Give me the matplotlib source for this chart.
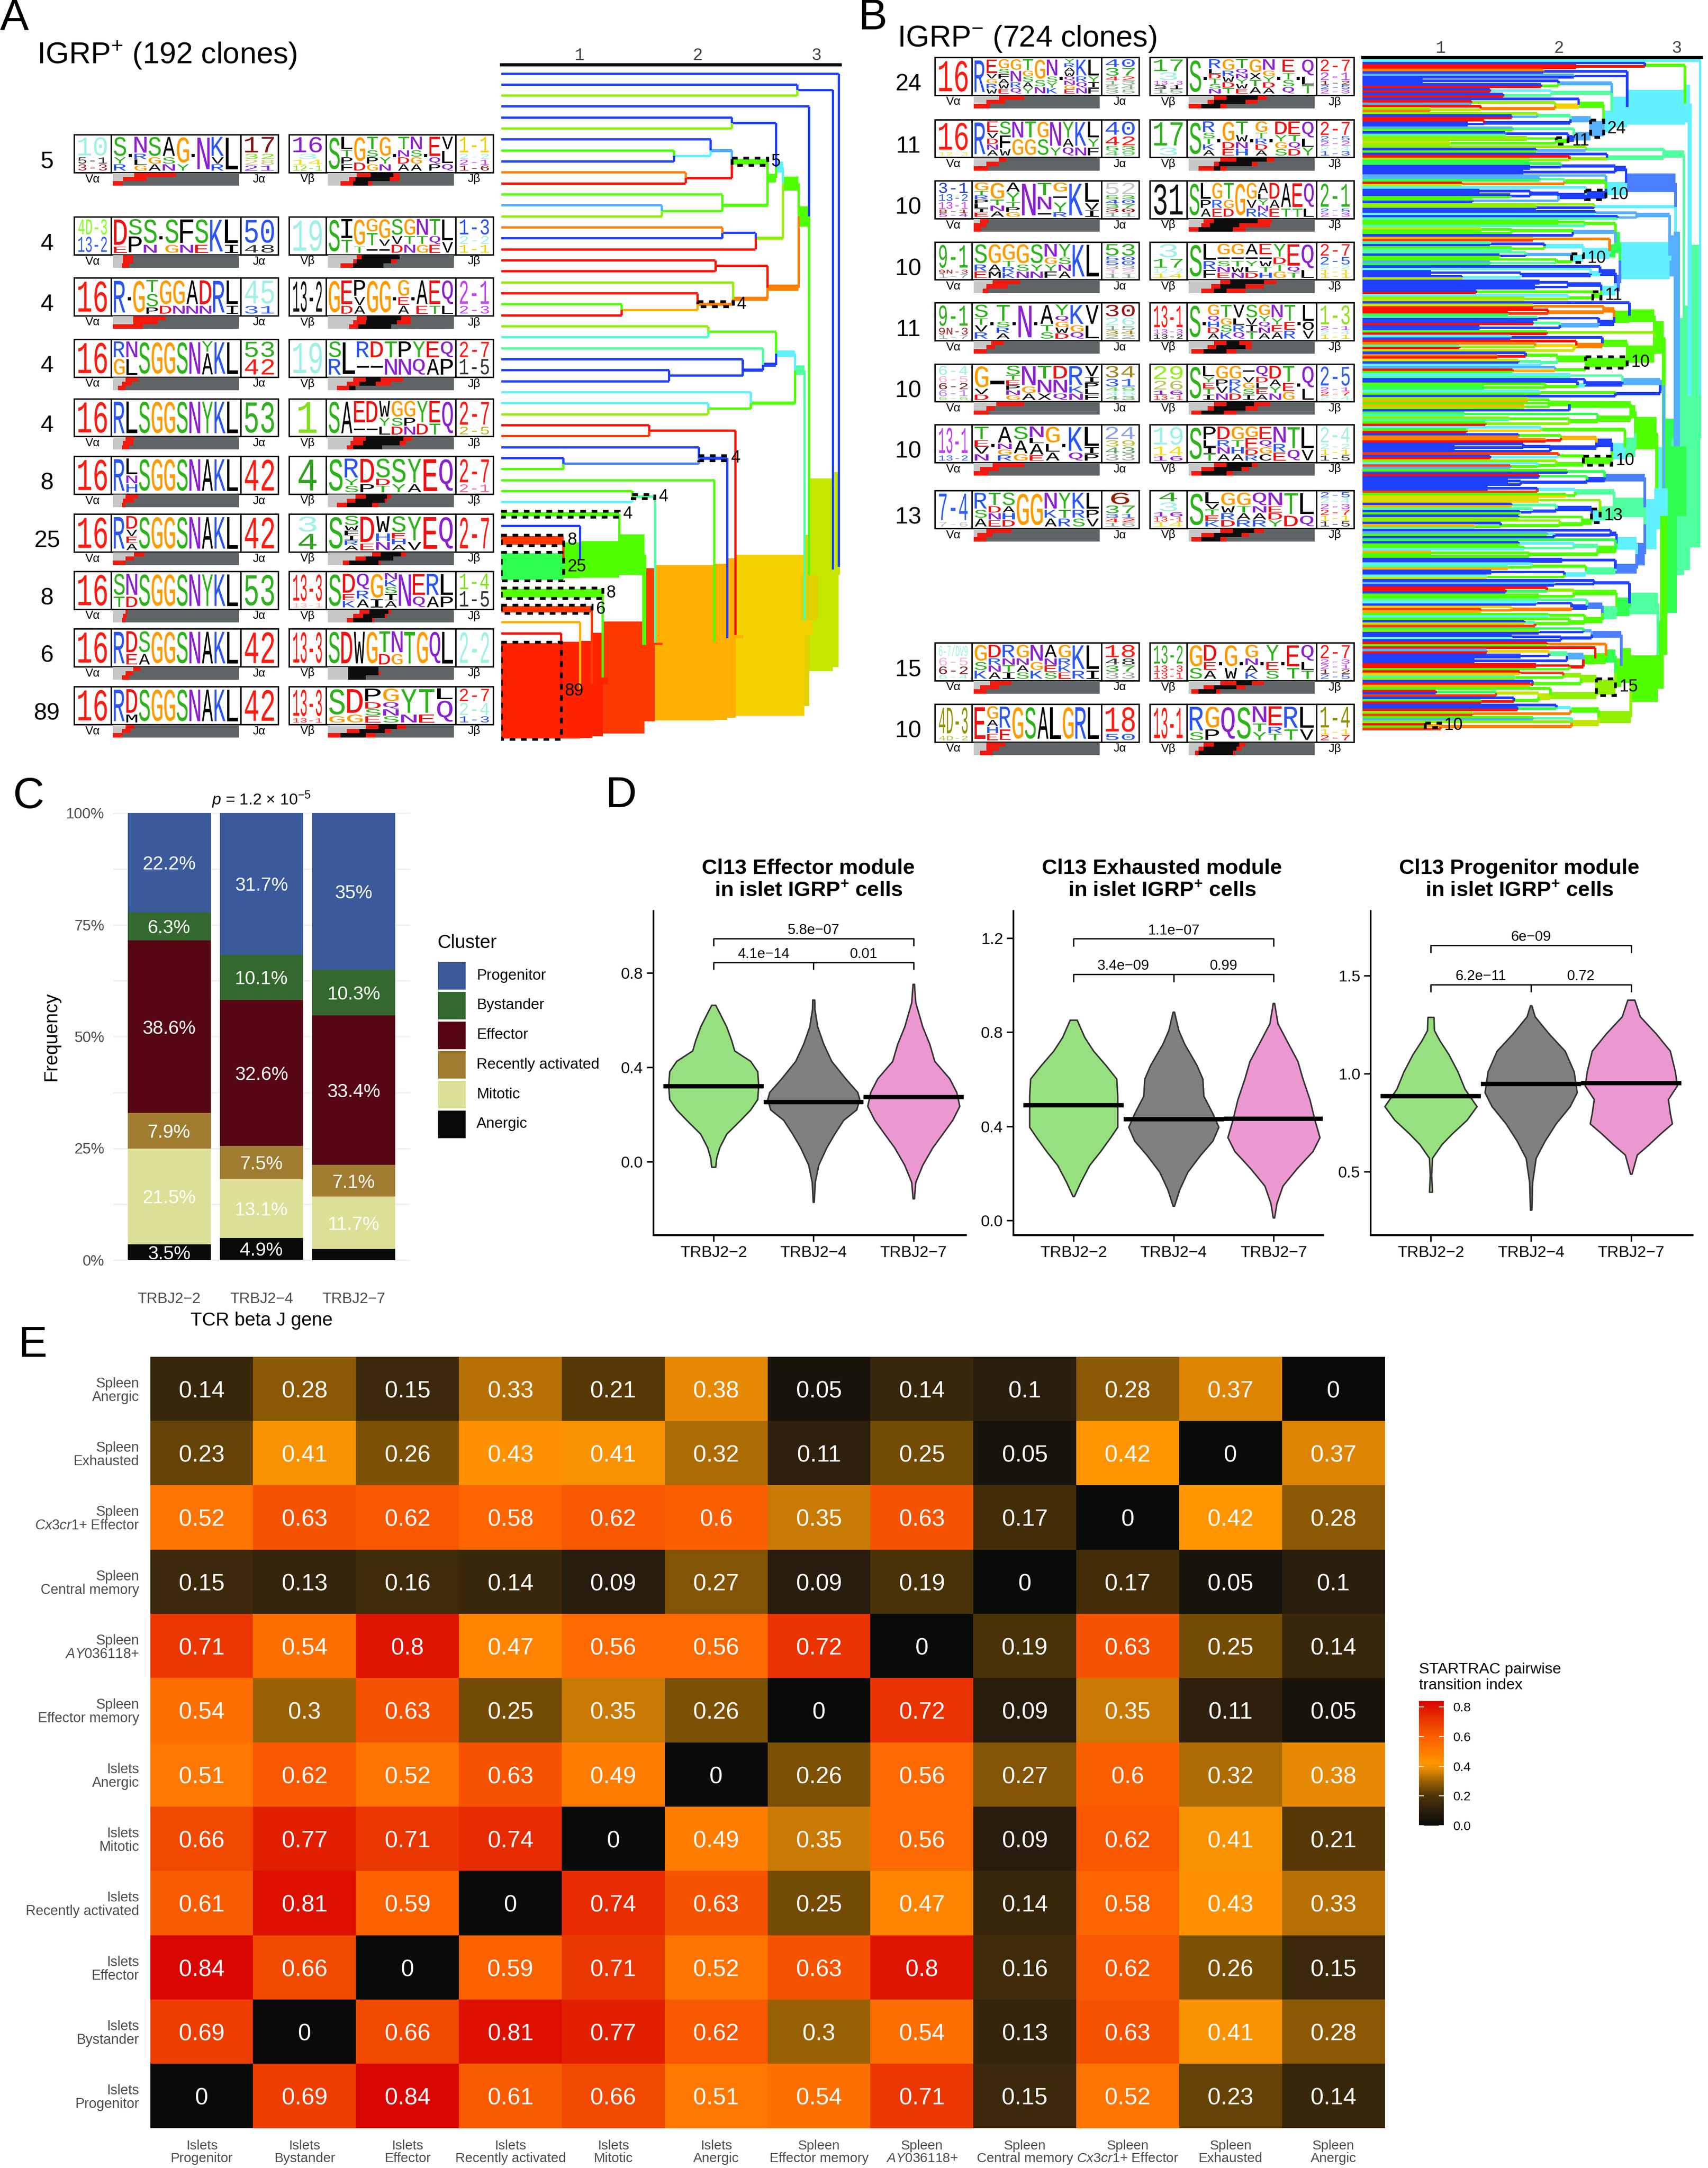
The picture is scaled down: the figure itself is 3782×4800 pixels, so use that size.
import numpy as np
import matplotlib
matplotlib.use('Agg')
import matplotlib.pyplot as plt
from matplotlib.colors import LinearSegmentedColormap
from matplotlib.patches import Rectangle
from matplotlib.patheffects import AbstractPathEffect
from matplotlib.path import Path
from matplotlib.transforms import Affine2D

plt.rcParams['font.family'] = ['Liberation Sans', 'DejaVu Sans']
plt.rcParams['mathtext.fontset'] = 'custom'
plt.rcParams['mathtext.rm'] = 'Liberation Sans'
plt.rcParams['mathtext.it'] = 'Liberation Sans:italic'
plt.rcParams['mathtext.bf'] = 'Liberation Sans:bold'

W, H = 3782, 4800

# ---------- panel C values ----------
c_genes = ['TRBJ2\u22122', 'TRBJ2\u22124', 'TRBJ2\u22127']
c_clusters = ['Progenitor', 'Bystander', 'Effector', 'Recently activated', 'Mitotic', 'Anergic']
c_colors = ['#3A5A9C', '#33692E', '#570614', '#A07C30', '#DCE096', '#070A08']
c_j22 = [22.2, 6.3, 38.6, 7.9, 21.5, 3.5]
c_j24 = [31.7, 10.1, 32.6, 7.5, 13.1, 4.9]
c_j27 = [35, 10.3, 33.4, 7.1, 11.7, 2.5]

# ---------- panel D values: (value, half width) outline per violin ----------
d_titles = ['Cl13 Effector module', 'Cl13 Exhausted module', 'Cl13 Progenitor module']
d_colors = ['#97E07F', '#808080', '#EC98D0']
eff_y = [[.664, .631, .572, .514, .470, .426, .382, .323, .264, .220, .176, .117, .059, .015, -.023],
         [.686, .646, .572, .499, .426, .352, .294, .264, .220, .176, .117, .059, -.015, -.088, -.172],
         [.753, .675, .572, .499, .426, .352, .294, .235, .176, .117, .059, -.015, -.088, -.157]]
eff_w = [[.02, .06, .13, .18, .21, .37, .44, .45, .44, .37, .27, .13, .06, .03, .02],
         [.01, .012, .04, .10, .18, .32, .44, .46, .43, .30, .21, .13, .05, .015, .005],
         [.007, .02, .09, .16, .21, .36, .43, .46, .39, .29, .19, .09, .02, .007]]
eff_med = [.32, .252, .273]
exh_y = [[.852, .779, .720, .661, .602, .529, .455, .397, .353, .294, .235, .162, .103],
         [.886, .808, .749, .661, .602, .529, .455, .397, .338, .279, .206, .132, .062],
         [.923, .837, .764, .676, .602, .514, .426, .353, .294, .220, .147, .073, .012]]
exh_w = [[.035, .11, .20, .32, .43, .44, .44, .44, .37, .27, .16, .07, .007],
         [.007, .05, .11, .23, .29, .30, .39, .45, .39, .27, .14, .06, .007],
         [.007, .04, .13, .24, .29, .36, .41, .46, .39, .23, .09, .03, .007]]
exh_med = [.489, .430, .433]
pro_y = [[1.288, 1.22, 1.168, 1.097, 1.009, .921, .832, .762, .691, .638, .568, .480, .395],
         [1.347, 1.291, 1.203, 1.115, 1.009, .903, .832, .744, .656, .568, .444, .303],
         [1.376, 1.291, 1.203, 1.115, 1.009, .938, .868, .797, .744, .691, .638, .585, .487]]
pro_w = [[.03, .035, .09, .18, .27, .34, .46, .36, .21, .11, .015, .007, .015],
         [.007, .04, .18, .34, .43, .46, .39, .25, .14, .05, .015, .007],
         [.035, .09, .25, .39, .44, .46, .37, .39, .41, .29, .18, .06, .007]]
pro_med = [.885, .947, .952]
d_pvals = [['5.8e\u221207', '4.1e\u221214', '0.01'],
           ['1.1e\u221207', '3.4e\u221209', '0.99'],
           ['6e\u221209', '6.2e\u221211', '0.72']]

# ---------- panel E values ----------
e_rows = ['Spleen\nAnergic', 'Spleen\nExhausted', 'Spleen\n$\\it{Cx3cr1}$+ Effector', 'Spleen\nCentral memory',
          'Spleen\n$\\it{AY036118}$+', 'Spleen\nEffector memory', 'Islets\nAnergic', 'Islets\nMitotic',
          'Islets\nRecently activated', 'Islets\nEffector', 'Islets\nBystander', 'Islets\nProgenitor']
e_cols = e_rows[::-1]
e_vals = [[.14, .28, .15, .33, .21, .38, .05, .14, .1, .28, .37, 0],
          [.23, .41, .26, .43, .41, .32, .11, .25, .05, .42, 0, .37],
          [.52, .63, .62, .58, .62, .6, .35, .63, .17, 0, .42, .28],
          [.15, .13, .16, .14, .09, .27, .09, .19, 0, .17, .05, .1],
          [.71, .54, .8, .47, .56, .56, .72, 0, .19, .63, .25, .14],
          [.54, .3, .63, .25, .35, .26, 0, .72, .09, .35, .11, .05],
          [.51, .62, .52, .63, .49, 0, .26, .56, .27, .6, .32, .38],
          [.66, .77, .71, .74, 0, .49, .35, .56, .09, .62, .41, .21],
          [.61, .81, .59, 0, .74, .63, .25, .47, .14, .58, .43, .33],
          [.84, .66, 0, .59, .71, .52, .63, .8, .16, .62, .26, .15],
          [.69, 0, .66, .81, .77, .62, .3, .54, .13, .63, .41, .28],
          [0, .69, .84, .61, .66, .51, .54, .71, .15, .52, .23, .14]]

# ---------- panels A and B: logos. letters repeat to give their share of the column ----------
a_counts = [5, 4, 4, 4, 4, 8, 25, 8, 6, 89]
a_va = ['10*3,5-1,3-3', '4D-3,13-2', '16', '16', '16', '16', '16', '16', '16', '16']
a_ja = ['17*3,32,28,21', '50*3,48', '45*3,31', '53,42', '53', '42', '42', '53', '42', '42']
a_vb = ['16*3,3,14,12-1', '19', '13-2', '19', '1', '4', '3,4', '13-3*6,13-1', '13-3', '13-3*6,13-1']
a_jb = ['1-1*3,2-2,2-1,1-6', '1-3*2,2-2,1-1', '2-1*3,2-3', '2-7,1-5', '2-7*3,2-5', '2-7*3,2-1', '2-7',
        '1-4,1-5', '2-2', '2-7*2,2-4*2,1-3']
a_cdra = ['SSSYR . NNNRLG SSSGA AAASN GGGGY . N KKKVR L',
          'DDDDE SSPP SSSN . SSSG FFFN SSSE K LLLI',
          'R . G TTSSP GGGD GGGN AAAN DDDN R LLLI',
          'RG NL S G G S N YAA K L',
          'R L S G G S N Y K L',
          'R LLNH S G G S N A K L',
          'R DDVEA S G G S N A K L',
          'SST NND S G G S N Y K L',
          'R DDE SSA G G S N A K L',
          'R DDDM S G G S N A K L']
a_cdrb = ['S LLTPF GGGD TTSPG GGGYN . TTNDA NNSGA . EEEQP VVLLQ',
          'S IIITT GGGGT GGTT- GGGV- SSVD GGTN NNTG TTQE LLV',
          'GG EEED PPVA G G . GGEA . AAAE EEET QQQL',
          'SR L R- D- TN PN YQ EA QP',
          'S A EE- DD- WWYL GGSD GGPN YYD EET Q',
          'S RRRYS DDDP SSSDT SSSY YYYA E Q',
          'S SSWFIRA DDDDE WWHN SSEHSA YYYV E Q',
          'S DDDEK QQRA GGGI NKSIA N EEQ RRA LLP',
          'S D W G TTD NNG T G Q L',
          'SSSSG DDDG PPDSE GGQNS YYYN TTTE LQQ']
b_counts = [24, 11, 10, 10, 11, 10, 10, 13, 15, 10]
b_va = ['16', '16*8,12-3', '3-1*3,13-2*2,13-1*2,8-1,5-4', '9-1*6,9N-3,1-7', '9-1*6,9N-3*2,1-7',
        '6-4*3,6-5*2,6-2*2,6-1*2,6-6', '13-1*5,13-2', '7-4*6,7-6', '6-7/DV9*3,6-5*2,6-2*2,6-4',
        '4D-3*6,4D-2']
b_ja = ['40*2,37*2,42,13,54,35', '40*3,42*2,53,49', '52*3,53,40,37,30,11', '53*3,50,50,33,12,11',
        '30*3,26*2,15,34,22', '34*3,31*2,49,45,43', '24*2,39,43,33', '6*3,37*2,31,42,16', '18*2,48,37,33',
        '18*4,50']
b_vb = ['17*3,3*2,13-3,31,15', '17*3,3', '31', '3*3,17*2,12-2,14', '13-1*5,13-3,13-2', '29*3,26*2,16,13-1',
        '19*4,14*2,16', '4*2,3*2,16,13-1,14', '13-2*3,13-3,13-1', '13-1']
b_jb = ['2-7*3,2-1*2,1-2,2-5,2-3', '2-7*3,2-5,2-2,2-4,1-3', '2-1*6,2-5,2-3', '2-7*3,2-5*2,2-2,1-1,1-1',
        '1-3*5,2-1,2-4,1-1', '2-5*5,2-1,2-7,2-4', '2-4*3,2-2,1-1,1-5', '2-5,2-4,2-3,2-7,1-1,1-5',
        '2-7*3,2-3,2-1,1-2,2-5', '1-4*4,1-1,2-7']
b_cdra = ['R EEEVGRW GGSFAWE GGNNRQ TTGSAY GGGSN NNNSYK . YRAWQNGE KKKRQN LLLYIF',
          'R EEVDNA SSFFW NNGG TTGG GGSS NNNY YYAQ KKKN LLYF',
          'GGTRPLIE GGGTNA AAYYTPG N TTNN- GG-YRY- K LLLVI',
          'SSSRE GGGAM GGGTRK GGGSN SSSYN NNGYF YYSNA K L',
          'SSTVR . TTTSRA . N . AAATS YYQGWD KKKGQ VVVLL',
          'GGGGVD - SSTEPNG NNNGA TTNNX DDNNQ RRRKN VVIPLF',
          'TTEVN . AAANGR SSAAG NNLAAE GGLA . KKKQ LLLIP',
          'RRSA TTDNE SSAHD GGG GG NNKA YYTR KKRS LLPV',
          'GGSK DDRNA RRNTI GGNAS NNGK AANES GGRKE KKKR LLLI',
          'E GGAHE RRE G S A L G R L']
b_cdrb = ['S . RRLDTSN GGRWDT TTQNYWE GGXTA NNGYDA . EETSQ . QQLT',
          'S RRSTKA . GGGDE TTWNH . GGTRDA . DDYGS EETQD QQLY',
          'S LLPA GGRE TTGD GG GGVR AALYNK DDAE AAAT EEET QQQL',
          'S LLRF GG-SNE GG-TWN AA-YLD EE-WTH YYDTG EEEEQT QQQL',
          'S . GGQHDA TTGSK VVLRQ SSVIT GGYQNA NNYEA TTER . LLOV',
          'S LLYETI GGPVN GGRKD --VGSI QQDLEA DDAYN TTEG . QQL',
          'S PPLIT DDRNA GGTHA GGEEDR EEQGC NNRE TTQ LLV',
          'S LLVTEK GGWRD GGTAR QQNAR NNEDY TTD LLQ',
          'GGS DDEA . GGW . GGNAK . YYES . EET QQLT',
          'RRSR GGP Q S NNTY EEERT RRT LLV']

a_bars_a = [[(.17, .5), (.08, .27), (0, .08)], [(.08, .16), (.08, .16), (.07, .13)], [(.16, .42), (.16, .36), (0, .24)],
            [(.1, .2), (.07, .15), (.04, .1)], [(.1, .17), (.08, .16), (.07, .13)], [(.1, .2), (.08, .17), (.07, .1)],
            [(.17, .25), (.1, .17), (0, .1)], [(.1, .12), (.08, .11), (.07, .1)], [(.16, .22), (.1, .16), (.07, .13)],
            [(.1, .17), (.07, .14), (0, .08)]]
a_bars_b = [[(.23, .34, .52, .57), (.17, .22, .49, .57), (.1, .2, .32, .35)],
            [(.23, .27, .57, .57), (.2, .23, .5, .55), (.1, .2, .44, .44)],
            [(.23, .31, .58, .66), (.2, .3, .55, .66), (.17, .24, .5, .5)],
            [(.2, .3, .42, .6), (.15, .25, .38, .5), (.07, .17, .22, .22)],
            [(.2, .3, .6, .67), (.18, .28, .57, .62), (.15, .2, .43, .43)],
            [(.22, .3, .47, .5), (.15, .22, .45, .47), (.07, .15, .35, .4)],
            [(.35, .42, .58, .62), (.22, .3, .52, .52), (.12, .17, .4, .42)],
            [(.25, .33, .48, .5), (.2, .28, .45, .47), (.15, .2, .35, .37)],
            [(.16, .16, .4, .4), (.16, .16, .4, .42), (.16, .16, .3, .3)],
            [(.3, .4, .55, .62), (.15, .25, .45, .5), (0, .1, .3, .38)]]
b_bars_a = [[(.2, .4), (.1, .25), (0, .13)], [(.2, .26), (.1, .2), (0, .12)], [(.05, .12), (0, .1), (0, .06)],
            [(.15, .37), (.1, .27), (.07, .12)], [(.14, .24), (.1, .17), (0, .1)], [(.18, .4), (.1, .17), (0, .12)],
            [(.15, .4), (.05, .2), (0, .12)], [(.1, .3), (.03, .15), (0, .1)], [(.13, .3), (.05, .2), (0, .1)],
            [(.1, .25), (.1, .2), (.05, .15)]]
b_bars_b = [[(.2, .3, .55, .62), (.15, .2, .45, .55), (0, .1, .25, .3)],
            [(.25, .38, .62, .68), (.2, .24, .5, .55), (.08, .2, .25, .3)],
            [(.12, .2, .55, .66), (.1, .17, .4, .65), (0, .08, .35, .45)],
            [(.25, .33, .6, .7), (.18, .25, .45, .6), (.1, .2, .3, .45)],
            [(.2, .3, .4, .5), (.15, .22, .45, .5), (.02, .12, .3, .38)],
            [(.2, .3, .52, .65), (.15, .2, .45, .55), (.02, .1, .28, .38)],
            [(.2, .3, .5, .55), (.1, .2, .42, .48), (.02, .1, .3, .35)],
            [(.25, .35, .52, .6), (.1, .2, .42, .48), (.02, .1, .25, .3)],
            [(.25, .38, .5, .6), (.12, .2, .38, .45), (.02, .08, .22, .25)],
            [(.12, .2, .4, .45), (.08, .12, .38, .42), (.05, .08, .35, .37)]]

va_colors = {'16': '#ff1a10', '10': '#a0f0e8', '5-1': '#333333', '3-3': '#a02030', '4D-3': '#80ff20',
             '13-2': '#3060f0', '3-1': '#2040d0', '13-1': '#c040f0', '8-1': '#a02020', '5-4': '#b030c0',
             '9-1': '#30b020', '9N-3': '#a02020', '1-7': '#90a0a0', '6-4': '#a0f0e0', '6-5': '#f0b0e0',
             '6-2': '#802020', '6-1': '#c080f0', '6-6': '#80e060', '7-4': '#3060f0', '7-6': '#c0c0c0',
             '6-7/DV9': '#a0f0e0', '12-3': '#f0e040', '4D-2': '#c0c040'}
ja_colors = {'17': '#801818', '32': '#80e020', '28': '#d0c880', '21': '#8030e0', '50': '#2a55f0', '48': '#333333',
             '45': '#a0f0e8', '31': '#3060f0', '53': '#30b020', '42': '#ff1a10', '40': '#2a55f0', '37': '#30b020',
             '52': '#c8c8c8', '30': '#901818', '26': '#a0f0e0', '34': '#a08820', '24': '#90a0f0', '39': '#c0c040',
             '43': '#60a060', '33': '#a0a0a0', '6': '#902000', '18': '#ff1a10', '12': '#f0b0e0', '49': '#60d060'}
vb_colors = {'16': '#8a20d0', '3': '#a0f0e8', '14': '#f0e020', '12-1': '#80e020', '19': '#a0f0e8', '13-2': '#111111',
             '1': '#80e020', '4': '#30a020', '13-3': '#ff1a10', '13-1': '#ff1a10', '17': '#30b020', '31': '#111111',
             '12-2': '#a0f0e8', '29': '#90f020', '26': '#c0c060', '15': '#80a080'}
jb_colors = {'1-1': '#f0d000', '2-2': '#a0f0e8', '2-1': '#c040f0', '1-6': '#801818', '1-3': '#2a55f0', '2-3': '#c040f0',
             '2-7': '#ff1a10', '1-5': '#333333', '2-5': '#3060f0', '1-4': '#80e020', '2-4': '#a0f0e0', '1-2': '#801818'}
row_overrides = {(1, 9, 'va', '4D-3'): '#909000', (1, 9, 'jb', '1-4'): '#909000', (1, 8, 'vb', '13-2'): '#30b020',
                 (1, 4, 'jb', '1-3'): '#90e020', (1, 2, 'jb', '2-1'): '#30b020', (1, 0, 'vb', '13-3'): '#c040f0',
                 (1, 4, 'vb', '13-3'): '#c040f0', (0, 7, 'vb', '13-1'): '#ffb0b0', (1, 7, 'va', '7-6'): '#c0c0c0',
                 (0, 4, 'jb', '2-5'): '#c0b020', (0, 5, 'jb', '2-1'): '#f060a0', (1, 1, 'jb', '2-2'): '#c040f0'}

letter_colors = {'G': '#ff9a00', 'S': '#2cb31a', 'T': '#2cb31a', 'Y': '#2cb31a', 'N': '#8a20d0', 'Q': '#8a20d0',
                 'R': '#2a55f0', 'K': '#2a55f0', 'H': '#2a55f0', 'D': '#f01010', 'E': '#f01010'}

# ---------- dendrograms: (distance, stem colour, children..., [mark]); a leaf is a colour key, 'r:89!' has 89 clones and a mark ----------
tree_colors = {'b': '#2040ff', 'r': '#ff1000', 'o': '#ff8000', 'O': '#ffb000', 'g': '#50ff00', 'l': '#90f000',
               'y': '#c4e600', 'm': '#50ffa0', 'c': '#60f0ff', 's': '#55b0ff', 't': '#50ffd0', 'R': '#ff3a00',
               'Y': '#f5d000', 'B': '#4a80ff', 'G': '#30ff50', 'a': '#e0d000', 'e': '#ff2200'}

a_tree = (3.19, 'b', 'b',
          (3.14, 'y',
           (2.84, 'b', 'b', 'l'),
           (2.94, 'y', 'b',
            (2.85, 'g',
             (2.72, 'g',
              (2.66, 'c', (2.29, 'b', 'b', 'l'),
               (2.59, 'g',
                (2.29, 'g', (2.11, 's', 'b', (1.80, 'c', 'g', 'b')), (1.90, 'r', 'o', 'r'), 5),
                (2.21, 'g', 'g', (1.70, 'g', 's', 'l')))),
              (2.49, 'l', (2.21, 'b', 'o', 'b'), 'r')),
             (2.59, 'o', (2.15, 'r', 'r', 'r'),
              (2.30, 'o', 'l', (2.0, 'o', 'r', (1.36, 'O', 'g', 'r'), 4)))),
            (2.90, 'a',
             (2.82, 'm',
              (2.66, 'c', (2.09, 'g', 'l', 't'), (2.55, 'b', 'm', (2.38, 'b', 'b', (1.76, 'b', 'b', 'b')))),
              (2.45, 'g', 'c', (2.09, 'g', 'c', 'l'))),
             (2.32, 'Y', (1.59, 'r', 'r', 'R'),
              (2.25, 'O', (2.01, 'b', 'b', (.87, 'B', 'b', 'g'), 4),
               (2.14, 'O', 'g',
                (1.64, 'O', (1.45, 'm', 'g', 'c', 4),
                 (1.55, 'R',
                  (1.34, 'g', 'g:4!', (1.01, 'g', 'b', (.87, 'g', 'R:8!', 'G:25!'))),
                  (1.20, 'R', 'g:8!',
                   (1.11, 'e', 'R:6!', (1.01, 'e', 'O', (.85, 'e', 'r', 'e:89!')))))))))))))

bt_c = (2.45, 'c',
        (2.0, 's', (.85, 'b', 'b', 'b'), (1.85, 'g', 'b', 'r')),
        (1.94, 'm', (1.42, 'c', 'b', 'r'), (1.53, 'm', 'b', 'r')),
        (2.38, 'c',
         (2.17, 'g', 'b', (1.97, 'Y', (1.26, 'l', 'r', 's'), (1.34, 'o', 'r', (.91, 'y', 'l', 'o')))),
         (2.27, 's',
          (2.10, 's', (1.82, 'm', 'l', (1.6, 's', 'b', 'r')), (1.37, 'b', 'r', (1.23, 'b', 'b', 'b'))),
          (2.13, 's', (1.61, 'm', 's', 'g'),
           (2.08, 'b', (1.55, 'b', 'b', 'm'), (1.98, 'g', (1.73, 'g', 'l', 'l'), (1.08, 'g', 'y', 'l'), 11))),
          24)))
bt_top = (3.07, 'c', (2.73, 'g', 'b', (2.15, 'r', 'r', 'r')),
          (2.58, 'c', (1.87, 'b', 'o', 'b'), (2.13, 'b', 's', 'b'), bt_c))
bt_m = (2.89, 'm', (2.23, 'm', 'l', (1.81, 's', 'b', 'g')), (2.41, 'm', 'b', (2.09, 'l', 'r', (1.75, 'l', 'l', 'G'))))
bt_s1 = (2.57, 'B',
         (2.48, 'b', (2.02, 'b', 'G', (1.76, 'b', 'b', 'b')), (1.70, 'b', 'b', 'b')),
         (2.40, 'c', 's', (2.05, 'g', (1.84, 'm', 's', 'G'), (1.18, 'o', 'r', 'y')),
          (2.23, 'b', 'c', (2.0, 'b', (1.76, 'b', (1.33, 'b', 'b', 'b'), (1.59, 'b', 'b', 'g')), (1.27, 's', 'g', 'b')), 10)))
bt_s2 = (2.30, 'c', 'l', (1.81, 'b', 'l', 'b'))
bt_s3 = (2.66, 's', (2.31, 's', 'b', 'c'), (2.5, 's', 'b', 'm'))
bt_g = (2.48, 'G',
        (2.22, 'g', (2.0, 'g', 'g', 'g'), 'm'),
        (2.12, 's', (1.6, 'g', (1.34, 'g', 'y', 'g'), 'g'), 'b'),
        (2.43, 'G', (1.78, 'o', 'O', 'R'),
         (2.21, 'c', (1.88, 'c', (1.42, 'b', 'm', 'b'), (1.6, 'g', 'g', 'm')),
          (2.11, 'c', (1.72, 's', 'm', (1.5, 'b', 'b', 'g')), (1.98, 'g', 'g', (1.42, 'm', 's', 'G')), 10))))
bt_h = (2.48, 'B',
        (2.35, 'b', 'b', (2.27, 'c', 'c', (1.68, 'b', (.92, 'b', 'b', 'b'), (1.18, 'c', 'b', 'y')))),
        (2.36, 'c',
         (2.08, 'b', (1.84, 'b', 'b', 'b'), (1.80, 'b', 'b', 'b')),
         (2.29, 'g', (1.3, 'g', 'b', 'r'), (2.08, 'g', 'c', (1.71, 'l', 'l', 'y')), 11)))
bt_sky = (2.99, 's', bt_s1, bt_s2, (2.94, 's', bt_s3, (2.52, 'c', bt_g, bt_h)))
bt_q = (2.81, 'g',
        (2.6, 'g', 'b',
         (2.47, 'g', (2.38, 'o', (1.78, 'o', 'y', 'r'), (1.91, 'o', 'r', (1.57, 'R', 'r', 'G'))),
          (2.34, 'b', (1.82, 'b', 'm', 'b'), (2.01, 's', (1.78, 'm', 'b', 'r'), (1.33, 'b', 'b', 'b'))))),
        (1.9, 'l', 'g', 'r'),
        (2.58, 'g',
         (2.37, 'g', (1.59, 'b', 'c', 'b'), (2.15, 'o', 'r', (2.13, 'y', (1.8, 'Y', 'o', (1.16, 'l', 'm', 'r')), 'y'))),
         (2.23, 'g', (1.99, 'g', (1.72, 'g', 'b', (1.48, 'r', 'o', 'r')), (1.85, 'm', (1.66, 'm', 'y', 'b'), 'c')),
          (1.97, 'g', 's', (1.61, 'O', 'r', 'g')), 10)))
bt_q2 = (2.86, 's',
         (2.54, 's', (2.1, 'm', 'c', 'm'), (2.22, 'b', 'b', (2.16, 'c', 'b', (1.89, 'g', 'g', (1.37, 'g', 'G', 'G'))))),
         (2.48, 'b', (1.84, 'g', 'c', 'g'), 'b'))
bt_r = (2.65, 'g',
        (2.61, 'g',
         (2.09, 'g', (1.92, 'g', (1.74, 'g', 'l', 'O'), 'g', (1.71, 'g', 'O', 'l')), 'b'),
         (2.33, 'g', (1.2, 'G', 'G', 'm'), (2.09, 'g', (1.58, 'g', 'l', 'm'), (1.38, 'l', 'g', 'r')))),
        (2.56, 'm', (1.85, 'g', 'c', (1.22, 'Y', 'g', 'r')),
         (2.45, 'c',
          (2.32, 'b', (2.02, 'O', (1.66, 'g', 'b', 'o'), (1.89, 'r', 'o', 'r')),
           (1.93, 'b', (1.7, 'b', 'b', (1.12, 'b', 'b', 'b')), 'b')),
          (2.21, 'g', (2.0, 'g', 'R', (1.42, 'c', 'b', 'r')),
           (1.98, 'g', 'l', (1.82, 'g', 'c', (1.59, 'g', 'R', 's'))), 10))))
bt_t = (2.73, 'c',
        (2.39, 'B', (2.07, 'G', 'g', 'b'), (2.24, 'b', (1.83, 'G', 'r', 'b'), (1.68, 'b', (1.57, 'b', 'b', 'b'), 'b'))),
        (2.47, 'm',
         (2.14, 'm', (1.82, 'c', (1.4, 'b', 'b', 'b'), 'R'), (2.06, 'g', 'g', 'Y')),
         (2.35, 'm', (1.83, 'l', 'y', 'Y'),
          (2.28, 'c', (1.98, 'b', (1.6, 'm', 'b', 'O'), (1.77, 'b', 'm', (1.67, 'b', 'b', 'g'))),
           (2.2, 'g', (1.66, 'g', 'b', 'l'), (2.01, 'g', 'l', (1.51, 'g', 'b', (1.29, 'g', 'O', 'm')))), 13))),
        (2.66, 'B',
         (2.49, 'c',
          (2.44, 'b', 'b', (1.96, 'b', (1.9, 'c', 's', 'g'), 'b')),
          (2.48, 'g', 'G', (2.33, 'g', (2.13, 'm', (1.66, 'c', 'b', 'g'), (1.71, 'm', 'g', 'c')),
                            (1.75, 'g', (.92, 'g', 'O', 'g'), 'g')))),
         (2.48, 'B', (2.03, 'b', 'b', 'b'),
          (2.23, 'm', (1.77, 'g', 'c', (1.57, 'g', 'm', 'O')),
           (2.05, 'c', (1.43, 'b', 'b', 'b'), (1.39, 'g', 'c', 'y'))))))
bt_u = (2.84, 'g',
        (2.6, 'm',
         (2.3, 'b', 'b', (1.96, 'b', 's', 'b')),
         (2.49, 'G', (2.13, 'g', (1.9, 'l', 'r', (1.55, 'G', 'r', 'b')), (1.83, 'g', 'g', 'g')),
          (2.37, 'm', (2.24, 'B', 'm', (2.11, 'b', (1.81, 'b', 'c', 'b'), (1.6, 'o', 'Y', (1.34, 'o', 'R', 'O')))),
           (2.22, 'g', (1.91, 'g', 'g', 'c'), (2.09, 'g', 'g', (1.8, 'g', (1.71, 'm', 'b', 'y'), 'R')))))),
        (2.61, 'g',
         (2.53, 'g',
          (2.28, 'B', (2.21, 's', 'G', (1.83, 'b', 'l', 'b')), (2.02, 'b', (1.6, 'b', 'b', 'c'), 'b')),
          (2.48, 'g',
           (2.4, 'G', (1.9, 'o', 'r', 'g'),
            (2.31, 'g', 'r', (2.21, 'g', (2.07, 's', (1.92, 'm', (1.39, 'Y', 's', 'r'), (1.68, 'b', 'b', 'b')),
                                          (1.29, 'b', 'b', 'b')), (2.09, 'r', (1.81, 'r', 'r', 'r'), 'g')))),
           (2.32, 'l', (2.19, 'l', (2.04, 'l', (1.67, 'R', 'r', 'Y'), (1.63, 'g', 'm', 'l')),
                        (1.78, 'g', 'b', (1.76, 'r', 'r', 'O'))),
            (1.93, 'l', 'g', (1.83, 'y', (1.47, 'y', (.96, 'G', 'r', 'b'), 'R'), (1.62, 'g', 'b', (1.34, 'r', 'g', 'r')))),
            15))),
         (2.34, 'l', (2.1, 'g', (1.98, 'c', 'b', (1.65, 'G', 'b', 'r')), (1.27, 'o', 'l', 'R')),
          (2.11, 'y', (1.78, 'm', 'g', 's'), 'l', (1.0, 'o', (.87, 'O', 'r', 'g', 10), 'R')))))
b_tree = (3.2, 'g', 'c',
          (3.11, 'm', bt_top,
           (3.06, 'm', bt_m,
            (3.0, 'm', bt_sky,
             (2.89, 'G', bt_q, bt_q2, (2.83, 'c', bt_r, bt_t), bt_u)))))

fig = plt.figure(figsize=(W / 300, H / 300), dpi=300, facecolor='white')


def pax(x0, y0, x1, y1):
    # axes placed by reference pixels, y measured from the top
    return fig.add_axes([x0 / W, 1 - y1 / H, (x1 - x0) / W, (y1 - y0) / H])


canvas = pax(0, 0, W, H)
canvas.set_xlim(0, W)
canvas.set_ylim(H, 0)
canvas.axis('off')


class FitBox(AbstractPathEffect):
    # stretches a text's glyphs into a box, needed for sequence logo letters
    def __init__(self, x0, y0, w, h):
        self.box = (x0, y0, w, h)

    def draw_path(self, renderer, gc, tpath, affine, rgbFace=None):
        x0, y0, w, h = self.box
        v = tpath.vertices[tpath.codes != Path.CLOSEPOLY]
        bx0, by0 = v.min(axis=0)
        bx1, by1 = v.max(axis=0)
        fit = Affine2D().translate(-bx0, -by0).scale(w / max(bx1 - bx0, 1e-6), h / max(by1 - by0, 1e-6)).translate(x0, y0)
        renderer.draw_path(gc, tpath, fit, rgbFace)


def fit_text(s, x0, top, w, h, color):
    # nominal size keeps the text's own box inside the slot, the path effect does the stretching
    em_px = min(w / (.62 * len(s)), h / 1.2)
    canvas.text(x0 + w / 2, top + h / 2, s, ha='center', va='center', color=color, family='Liberation Mono',
                fontsize=max(em_px * 72 / 300, .5), parse_math=False, path_effects=[FitBox(x0, H - top - h, w, h)])


def draw_genes(spec, colors, x0, top, w, h, key):
    parts = [p.split('*') for p in spec.split(',')]
    weights = [int(p[1]) if len(p) > 1 else 1 for p in parts]
    y = top + 3
    for p, wt in zip(parts, weights):
        slot = (h - 6) * wt / sum(weights)
        color = row_overrides.get(key + (p[0],), colors.get(p[0], '#88aa88'))
        gw = (w - 10) * (.55 if len(p[0]) == 1 else .88)
        fit_text(p[0], x0 + (w - gw) / 2, y + slot * .06, gw, slot * .88, color)
        y += slot


def draw_cdr(spec, x0, top, w, h):
    cols = spec.split()
    widths = [.45 if c == '.' else 1 for c in cols]
    unit = (w - 8) / sum(widths)
    x = x0 + 4
    for c, cw in zip(cols, widths):
        cw = cw * unit
        if c == '.':
            canvas.add_patch(Rectangle((x + cw * .25, top + h * .52), 7, 7, color='black', lw=0))
            x += cw
            continue
        y = top + 3
        for ch in dict.fromkeys(c):
            slot = (h - 6) * c.count(ch) / len(c)
            if ch == '-':
                fit_text(ch, x + 2, y + slot * .45, cw - 4, max(slot * .1, 3), 'black')
            else:
                fit_text(ch, x + cw * .07, y + slot * .05, cw * .86, slot * .9, letter_colors.get(ch, 'black'))
            y += slot
        x += cw


def draw_bar(levels, x0, top, w):
    lv_h = 28 / len(levels)
    for i, lv in enumerate(levels):
        lv = tuple(lv) if len(lv) == 4 else (lv[0], lv[1], lv[1], lv[1])
        edges = [0, lv[0], lv[1], lv[2], lv[3], 1]
        cols = ['#c6c8c8', '#f01a10', '#0d0d0d', '#f01a10', '#5f6566']
        for k in range(5):
            if edges[k + 1] > edges[k]:
                canvas.add_patch(Rectangle((x0 + edges[k] * w, top + i * lv_h), (edges[k + 1] - edges[k]) * w, lv_h + .5,
                                           color=cols[k], lw=0))


def draw_chain(left, top, v, cdr, j, bar, vcol, jcol, vname, jname, key_v, key_j):
    bh = 83.5
    boxes = [(left, 82), (left + 82, 287), (left + 369, 83)]
    for bx, bw in boxes:
        canvas.add_patch(Rectangle((bx, top), bw, bh, fill=False, ec='black', lw=.75))
    draw_genes(v, vcol, left, top, 82, bh, key_v)
    draw_cdr(cdr, left + 82, top, 287, bh)
    draw_genes(j, jcol, left + 369, top, 83, bh, key_j)
    draw_bar(bar, left + 86, top + bh + 1, 279)
    canvas.text(left + 41, top + bh + 15, vname, ha='center', va='center', fontsize=6.3)
    canvas.text(left + 410, top + bh + 15, jname, ha='center', va='center', fontsize=6.3)


a_tops = [298, 480, 615, 751, 882.5, 1010, 1138, 1265, 1392, 1520]
b_tops = [127, 264.5, 400, 535.5, 670, 805.5, 940, 1086, 1423, 1559]
for p, (tops, counts, va, ja, vb, jb, ca, cb, ba, bb, la, lb, xn) in enumerate(
        [(a_tops, a_counts, a_va, a_ja, a_vb, a_jb, a_cdra, a_cdrb, a_bars_a, a_bars_b, 164, 640, 104),
         (b_tops, b_counts, b_va, b_ja, b_vb, b_jb, b_cdra, b_cdrb, b_bars_a, b_bars_b, 2070, 2546, 2011)]):
    for i in range(10):
        canvas.text(xn, tops[i] + 60, str(counts[i]), ha='center', va='center', fontsize=12.5)
        draw_chain(la, tops[i], va[i], ca[i], ja[i], ba[i], va_colors, ja_colors, 'V\u03b1', 'J\u03b1', (p, i, 'va'), (p, i, 'ja'))
        draw_chain(lb, tops[i], vb[i], cb[i], jb[i], bb[i], vb_colors, jb_colors, 'V\u03b2', 'J\u03b2', (p, i, 'vb'), (p, i, 'jb'))

canvas.text(82, 122, 'IGRP$^{+}$ (192 clones)', ha='left', va='center', fontsize=16)
canvas.text(1987, 86, 'IGRP$^{\u2212}$ (724 clones)', ha='left', va='center', fontsize=16)
for letter, lx, ly in [('A', 0, 40), ('B', 1900, 40), ('C', 28, 1764), ('D', 1340, 1762), ('E', 40, 2979)]:
    canvas.text(lx, ly, letter, ha='left', va='center', fontsize=23)


def parse_tree(node):
    if isinstance(node, str):
        return {'x': None, 'c': node[0], 'kids': [], 'n': int(node[2:].rstrip('!') or 1) if ':' in node else 1,
                'mark': (int(node[2:].rstrip('!')) if node.endswith('!') else None)}
    kids = [parse_tree(k) for k in node[2:] if not isinstance(k, int)]
    marks = [k for k in node[2:] if isinstance(k, int)]
    return {'x': node[0], 'c': node[1], 'kids': kids, 'n': sum(k['n'] for k in kids), 'mark': marks[0] if marks else None}


def collect_leaves(o, out):
    if not o['kids']:
        out.append(o)
    for k in o['kids']:
        collect_leaves(k, out)


def assign_y(o):
    if o['kids']:
        for k in o['kids']:
            assign_y(k)
        o['y'] = sum(k['y'] * k['n'] for k in o['kids']) / o['n']


def draw_tree(ax, tree, x_left, thin, per_clone, y0, y_end, px_unit):
    root = parse_tree(tree)
    leaves = []
    collect_leaves(root, leaves)
    hs = [max(thin, per_clone * lf['n']) for lf in leaves]
    gap = (y_end - y0 - hs[-1] / 2 - sum((hs[i] + hs[i + 1]) / 2 for i in range(len(hs) - 1))) / (len(hs) - 1)
    y = y0
    for i, lf in enumerate(leaves):
        if i:
            y += gap + (hs[i - 1] + hs[i]) / 2
        lf['y'] = y
        lf['x'] = x_left
    assign_y(root)
    horiz, vert, marks = [], [], []

    def walk(o):
        for k in o['kids']:
            h = max(thin, per_clone * k['n'])
            horiz.append((k['y'], k['x'], o['x'], h, tree_colors[k['c']]))
            vert.append((o['x'], k['y'], o['y'], max(thin, .1 * h) / px_unit, tree_colors[k['c']]))
            if k['mark']:
                marks.append((k['x'], o['x'], k['y'], h, k['mark']))
            walk(k)

    walk(root)
    horiz.sort(key=lambda r: -r[3])
    ax.barh([r[0] for r in horiz], [r[2] - r[1] for r in horiz], left=[r[1] for r in horiz],
            height=[r[3] for r in horiz], color=[r[4] for r in horiz], linewidth=0)
    ax.bar([r[0] for r in vert], [r[2] - r[1] for r in vert], bottom=[r[1] for r in vert],
           width=[r[3] for r in vert], color=[r[4] for r in vert], linewidth=0)
    for x0, x1, my, h, m in marks:
        ax.add_patch(Rectangle((x0, my - h / 2 - 2), x1 - x0, h + 4, fill=False, ec='black', lw=1.5, ls=(0, (2, 2)), zorder=5))
        ax.text(x1 + 8 / px_unit, my, str(m), va='center', ha='left', fontsize=9, zorder=6)


for box, xlim, tr, thin, per, y0, y1, unit in [
        ((1110, 143, 1860, 1640), (.345, 3.2), a_tree, 5, 2.37, 163, 1635, 262.5),
        ((3016.6, 127, 3767, 1640), (.339, 3.207), b_tree, 5.6, 2.4, 134, 1617, 261.5)]:
    tax = pax(*box)
    tax.set_xlim(*xlim)
    tax.set_ylim(box[3], box[1])
    draw_tree(tax, tr, xlim[0], thin, per, y0, y1, unit)
    for s in ['left', 'right', 'bottom']:
        tax.spines[s].set_visible(False)
    tax.spines['top'].set_linewidth(1.7)
    tax.patch.set_alpha(0)
    tax.xaxis.tick_top()
    tax.set_xticks([1, 2, 3])
    tax.set_xticklabels(['1', '2', '3'], family='Liberation Mono', fontsize=9, color='#444444')
    tax.set_yticks([])
    tax.tick_params(axis='x', length=0, pad=.5)

# panel C
cax = pax(252, 1800, 906, 2790)
cax.set_xlim(.4, 3.6)
cax.set_ylim(0, 100)
cax.set_yticks([0, 25, 50, 75, 100])
cax.set_yticks([12.5, 37.5, 62.5, 87.5], minor=True)
cax.set_yticklabels(['0%', '25%', '50%', '75%', '100%'])
cax.grid(True, axis='y', which='both', color='#F0F0F0', lw=.8, clip_on=False)
cax.set_axisbelow(True)
cax.tick_params(axis='both', which='both', length=0, labelsize=8, labelcolor='#4D4D4D')
cax.tick_params(axis='y', pad=5)
cax.tick_params(axis='x', pad=17)
for s in cax.spines.values():
    s.set_visible(False)
c_stack = np.array([c_j22, c_j24, c_j27], dtype=float)
for g in range(3):
    tops = 100 - np.concatenate([[0], np.cumsum(c_stack[g])[:-1]])
    for k in range(6):
        v = c_stack[g][k]
        cax.bar(g + 1, v, bottom=tops[k] - v, width=.9, color=c_colors[k], linewidth=0)
        if v > 3:
            cax.text(g + 1, tops[k] - v / 2, f'{v:g}%', color='white', ha='center', va='center_baseline', fontsize=10)
cax.set_xticks([1, 2, 3])
cax.set_xticklabels(c_genes)
cax.set_xlabel('TCR beta J gene', fontsize=10, labelpad=3)
cax.set_ylabel('Frequency', fontsize=10, labelpad=3)
cax.text(2, 103, '$\\it{p}$ = 1.2 \u00d7 10$^{\u22125}$', ha='center', va='center', fontsize=8.5)
canvas.text(969, 2088, 'Cluster', ha='left', va='center', fontsize=10)
for k, name in enumerate(c_clusters):
    ky = 2130 + k * 65.8
    canvas.add_patch(Rectangle((970, ky), 61, 61, color=c_colors[k], lw=0))
    canvas.text(1055, ky + 30, name, ha='left', va='center', fontsize=8)

# panel D
d_boxes = [(1447, 2138, 3.52, (-.311, 1.063), [0, .4, .8], ['0.0', '0.4', '0.8'], eff_y, eff_w, eff_med,
            (.947, .917, .845, .817, .98, .879)),
           (2244, 2929, 3.49, (-.061, 1.315), [0, .4, .8, 1.2], ['0.0', '0.4', '0.8', '1.2'], exh_y, exh_w, exh_med,
            (1.197, 1.168, 1.046, 1.016, 1.231, 1.08)),
           (3035, 3747, 3.61, (.176, 1.83), [.5, 1, 1.5], ['0.5', '1.0', '1.5'], pro_y, pro_w, pro_med,
            (1.654, 1.619, 1.455, 1.42, 1.697, 1.496))]
for i, (x0, x1, xr, yl, yt, ytl, vy, vw, med, br) in enumerate(d_boxes):
    ax = pax(x0, 2017, x1, 2734)
    ax.set_xlim(.4, xr)
    ax.set_ylim(*yl)
    for k in range(3):
        yy = np.array(vy[k])
        ww = np.array(vw[k])
        ax.fill_betweenx(yy, k + 1 - ww, k + 1 + ww, facecolor=d_colors[k], edgecolor='#333333', lw=.8)
        ax.hlines(med[k], k + .5, k + 1.5, color='black', lw=2.3, zorder=4)
    ax.plot([1, 1, 3, 3], [br[1], br[0], br[0], br[1]], color='black', lw=.7)
    ax.plot([1, 1, 3, 3], [br[3], br[2], br[2], br[3]], color='black', lw=.7)
    ax.plot([2, 2], [br[2], br[3]], color='black', lw=.7)
    ax.text(2, br[4], d_pvals[i][0], ha='center', va='center', fontsize=7.6)
    ax.text(1.5, br[5], d_pvals[i][1], ha='center', va='center', fontsize=7.6)
    ax.text(2.5, br[5], d_pvals[i][2], ha='center', va='center', fontsize=7.6)
    ax.set_xticks([1, 2, 3])
    ax.set_xticklabels(c_genes)
    ax.set_yticks(yt)
    ax.set_yticklabels(ytl)
    ax.tick_params(labelsize=8.5, length=3.5, width=.8, pad=2)
    ax.spines['top'].set_visible(False)
    ax.spines['right'].set_visible(False)
    ax.spines['left'].set_linewidth(.9)
    ax.spines['bottom'].set_linewidth(1.1)
    tx = [1790, 2573, 3364][i]
    canvas.text(tx, 1948, d_titles[i] + '\nin islet IGRP$^{\\mathbf{+}}$ cells', ha='center', va='center',
                fontsize=11.3, fontweight='bold', linespacing=1.15)

# panel E
heat_cmap = LinearSegmentedColormap.from_list('startrac', [
    (0, '#090b09'), (.1 / .84, '#2b1f0e'), (.2 / .84, '#4f3508'), (.3 / .84, '#9a6204'), (.38 / .84, '#e88a05'),
    (.42 / .84, '#ff9600'), (.5 / .84, '#ff7a00'), (.6 / .84, '#fa5f00'), (.7 / .84, '#ec3c00'), (1, '#d90500')])
hax = pax(333, 3004, 3066.5, 4712)
mat = np.array(e_vals)
im = hax.imshow(mat, cmap=heat_cmap, vmin=0, vmax=.84, aspect='auto', interpolation='nearest')
for r in range(12):
    for c in range(12):
        hax.text(c, r, f'{mat[r, c]:g}', color='white', ha='center', va='center_baseline', fontsize=12.5)
hax.set_xticks(range(12))
hax.set_xticklabels(e_cols, linespacing=1.0, fontsize=7.2, color='#4D4D4D')
hax.set_yticks(range(12))
hax.set_yticklabels(e_rows, linespacing=1.0, fontsize=7.4, color='#4D4D4D', ha='right', multialignment='right')
hax.tick_params(length=0, pad=6)
for s in hax.spines.values():
    s.set_visible(False)

barax = pax(3142, 3766, 3197, 4042)
cb = fig.colorbar(im, cax=barax, ticks=[0, .2, .4, .6, .8])
cb.outline.set_visible(False)
cb.ax.tick_params(length=0, labelsize=6.8, pad=5)
cb.ax.set_yticklabels(['0.0', '0.2', '0.4', '0.6', '0.8'])
cb.ax.hlines([0, .2, .4, .6, .8], 0, .2, color='white', lw=.5, transform=cb.ax.get_yaxis_transform())
cb.ax.hlines([0, .2, .4, .6, .8], .8, 1, color='white', lw=.5, transform=cb.ax.get_yaxis_transform())
canvas.text(3142, 3714, 'STARTRAC pairwise\ntransition index', ha='left', va='center', fontsize=8.2, linespacing=1.15)

fig.savefig('out.png', dpi=300, facecolor='white')
